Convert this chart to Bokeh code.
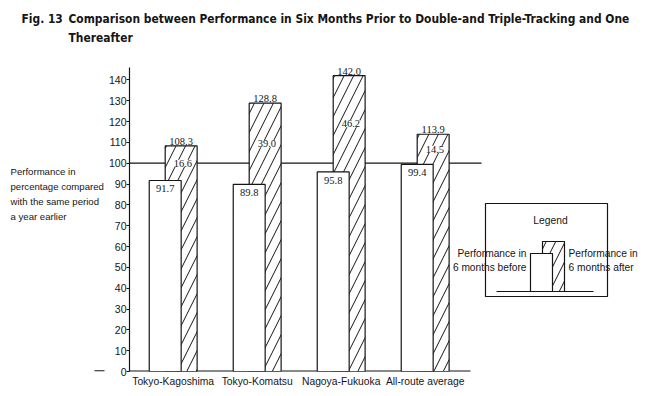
from bokeh.plotting import figure
from bokeh.layouts import column, row
from bokeh.models import Range1d, FixedTicker, LabelSet, Label, ColumnDataSource
from bokeh.core.properties import value
from bokeh.embed import file_html
from bokeh.resources import INLINE

# ---------------- data ----------------
categories = ["Tokyo-Kagoshima", "Tokyo-Komatsu", "Nagoya-Fukuoka", "All-route average"]
before = [91.7, 89.8, 95.8, 99.4]
after = [108.3, 128.8, 142.0, 113.9]
increase = [16.6, 39.0, 46.2, 14.5]
y_ticks = [0, 10, 20, 30, 40, 50, 60, 70, 80, 90, 100, 110, 120, 130, 140]
reference_level = 100
fig_number = "Fig. 13"
title_line1 = "Comparison between Performance in Six Months Prior to Double-and Triple-Tracking and One"
title_line2 = "Thereafter"
y_label_lines = ["Performance in", "percentage compared", "with the same period", "a year earlier"]
legend_title = "Legend"
legend_before = ["Performance in", "6 months before"]
legend_after = ["Performance in", "6 months after"]

# ---------------- layout constants ----------------
W, H = 650, 396
TITLE_H = 48
DESC_W = 105
MAIN_W = W - DESC_W
MAIN_H = H - TITLE_H
FONT = "Liberation Sans"
TITLE_FONT = "DejaVu Sans Condensed"
INK = "#151515"
PX_PER_CAT = 84.0          # pixels between category centres
X_START = -0.52            # data x at the y axis
BAR_W = 0.38
OFFSET = 0.095
AXIS_LEFT = 129            # page x of y axis
FRAME_TOP = 60             # page y of frame top
FRAME_BOTTOM = 25
Y_END = 149.3
AXIS_TOP_VALUE = 146

frame_h = H - FRAME_TOP - FRAME_BOTTOM
px_per_unit = frame_h / Y_END
frame_w = W - AXIS_LEFT
X_END = X_START + frame_w / PX_PER_CAT
ZERO_Y = H - FRAME_BOTTOM


def dx(page_x):
    return X_START + (page_x - AXIS_LEFT) / PX_PER_CAT


def dy(page_y):
    return (ZERO_Y - page_y) / px_per_unit


def blank(width, height, y_top, y_bottom):
    f = figure(width=width, height=height, output_backend="svg", toolbar_location=None,
               x_range=Range1d(0, width), y_range=Range1d(y_bottom, y_top),
               x_axis_type=None, y_axis_type=None,
               min_border=0, min_border_left=0, min_border_right=0,
               min_border_top=0, min_border_bottom=0)
    f.title.visible = False
    f.outline_line_color = None
    f.grid.visible = False
    f.background_fill_color = "white"
    f.border_fill_color = "white"
    return f


# ---------------- title strip (page coordinates) ----------------
pt = blank(W, TITLE_H, 0, TITLE_H)
pt.text(x=[21, 68, 68], y=[18.5, 18.5, 37], text=[fig_number, title_line1, title_line2],
        text_font=value(TITLE_FONT), text_font_style="bold", text_font_size="11.9px",
        text_baseline="middle", text_align="left", text_color=INK)

# ---------------- y description strip (frame aligned with main frame: page y) ----------------
pd_ = blank(DESC_W, MAIN_H, FRAME_TOP, ZERO_Y)
pd_.text(x=[10] * len(y_label_lines),
         y=[171 + 15.1 * k for k in range(len(y_label_lines))],
         text=y_label_lines, text_font=value(FONT), text_font_size="9.6px",
         text_baseline="middle", text_align="left", text_color=INK)
pd_.segment(x0=[94], y0=[ZERO_Y - 0.6], x1=[104], y1=[ZERO_Y - 0.6], line_color=INK, line_width=1.2)

# ---------------- main chart ----------------
p = figure(width=MAIN_W, height=MAIN_H, output_backend="svg", toolbar_location=None,
           x_range=Range1d(X_START, X_END), y_range=Range1d(0, Y_END),
           min_border_left=AXIS_LEFT - DESC_W, min_border_right=0,
           min_border_top=FRAME_TOP - TITLE_H, min_border_bottom=FRAME_BOTTOM)
p.title.visible = False
p.outline_line_color = None
p.grid.visible = False
p.background_fill_color = "white"
p.border_fill_color = "white"

ya = p.yaxis[0]
ya.ticker = FixedTicker(ticks=y_ticks)
ya.bounds = (0, AXIS_TOP_VALUE)
ya.minor_tick_line_color = None
ya.major_tick_out = 3
ya.major_tick_in = 0
ya.major_label_standoff = 0
ya.axis_line_color = INK
ya.axis_line_width = 1.2
ya.major_tick_line_color = INK
ya.major_label_text_font = FONT
ya.major_label_text_font_size = "10.5px"
ya.major_label_text_color = INK

xa = p.xaxis[0]
xa.ticker = FixedTicker(ticks=list(range(len(categories))))
xa.major_label_overrides = {i: c for i, c in enumerate(categories)}
xa.axis_line_color = None
xa.major_tick_line_color = None
xa.minor_tick_line_color = None
xa.major_tick_out = 0
xa.major_tick_in = 0
xa.major_label_standoff = 4
xa.major_label_text_font = FONT
xa.major_label_text_font_size = "10.3px"
xa.major_label_text_color = INK

xs = list(range(len(categories)))
src = ColumnDataSource(dict(
    x=xs,
    xb=[x - OFFSET for x in xs],
    xa=[x + OFFSET for x in xs],
    xinc=[x + OFFSET + 0.02 for x in xs],
    before=before,
    after=after,
    increase=increase,
    mid=[(b + a) / 2 for b, a in zip(before, after)],
    before_txt=[f"{v:.1f}" for v in before],
    after_txt=[f"{v:.1f}" for v in after],
    inc_txt=[f"{v:.1f}" for v in increase],
))

p.segment(x0=[X_START], y0=[reference_level], x1=[dx(481)], y1=[reference_level],
          line_color=INK, line_width=1.2)
p.segment(x0=[X_START], y0=[0], x1=[dx(470)], y1=[0], line_color=INK, line_width=2)

HATCH = dict(hatch_pattern="/", hatch_color=INK, hatch_weight=1, hatch_scale=19)
p.vbar(x="xa", width=BAR_W, top="after", bottom=0, source=src,
       fill_color="white", line_color=INK, line_width=1.2, **HATCH)
p.vbar(x="xb", width=BAR_W, top="before", bottom=0, source=src,
       fill_color="white", line_color=INK, line_width=1.2)

common = dict(text_font=FONT, text_font_size="10.5px", text_color=INK, text_align="center")
p.add_layout(LabelSet(x="xb", y="before", text="before_txt", source=src,
                      text_baseline="top", y_offset=-5, **common))
p.add_layout(LabelSet(x="xa", y="after", text="after_txt", source=src,
                      text_baseline="bottom", y_offset=1, **common))
p.add_layout(LabelSet(x="xinc", y="mid", text="inc_txt", source=src,
                      text_baseline="middle", background_fill_color="white", **common))

# legend
p.quad(left=[dx(485)], right=[dx(607)], bottom=[dy(296)], top=[dy(203)],
       fill_color=None, line_color=INK, line_width=1.2)
p.add_layout(Label(x=dx(550), y=dy(220), text=legend_title, text_font=FONT,
                   text_font_size="10.3px", text_align="center", text_baseline="middle",
                   text_color=INK))
p.quad(left=[dx(542)], right=[dx(564)], bottom=[dy(291)], top=[dy(241)],
       fill_color="white", line_color=INK, line_width=1.2, **HATCH)
p.quad(left=[dx(530)], right=[dx(552)], bottom=[dy(291)], top=[dy(253)],
       fill_color="white", line_color=INK, line_width=1.2)
p.segment(x0=[dx(496)], y0=[dy(291)], x1=[dx(593)], y1=[dy(291)], line_color=INK, line_width=1.2)
for k, line in enumerate(legend_before):
    p.add_layout(Label(x=dx(526), y=dy(253 + 14 * k), text=line, text_font=FONT,
                       text_font_size="10.2px", text_align="right", text_baseline="middle",
                       text_color=INK))
for k, line in enumerate(legend_after):
    p.add_layout(Label(x=dx(568), y=dy(253 + 14 * k), text=line, text_font=FONT,
                       text_font_size="10.2px", text_align="left", text_baseline="middle",
                       text_color=INK))

layout = column(pt, row(pd_, p, spacing=0), spacing=0)
open("out.html", "w").write(file_html(layout, INLINE))
